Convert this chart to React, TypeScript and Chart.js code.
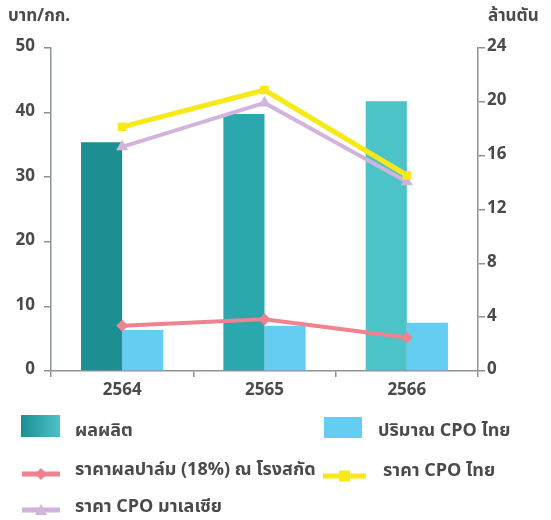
import React, { useEffect, useRef } from "react";
import { Chart, registerables } from "chart.js";

Chart.register(...registerables);

const categories = ["2564", "2565", "2566"];
const production = [17.0, 19.1, 20.05];
const cpoQuantity = [3.05, 3.37, 3.59];
const palmPrice = [7.0, 8.0, 5.2];
const cpoPriceThai = [37.8, 43.5, 30.3];
const cpoPriceMalaysia = [34.7, 41.5, 29.3];
const leftTicks = [0, 10, 20, 30, 40, 50];
const rightTicks = [0, 4, 8, 12, 16, 20, 24];

const FONT = "'Noto Sans Thai', 'Noto Sans', 'DejaVu Sans', sans-serif";
const TEXT = "#4a4a4a";
const AXIS = "#8c9396";
const TEAL = ["#1b8f92", "#2aa8ae", "#4cc3c7"];
const BLUE = "#66cdf2";
const PINK = "#f0818f";
const YELLOW = "#f7e817";
const PURPLE = "#d2b3dc";

const overlay = {
  id: "overlay",
  afterDraw(chart: any) {
    const ctx = chart.ctx as CanvasRenderingContext2D;
    ctx.save();
    ctx.fillStyle = TEXT;
    ctx.textBaseline = "middle";
    ctx.font = `bold 17px ${FONT}`;
    ctx.textAlign = "left";
    ctx.fillText("บาท/กก.", 8, 18);
    ctx.fillText("ล้านตัน", 488, 18);

    // legend
    const g = ctx.createLinearGradient(21, 0, 60, 0);
    g.addColorStop(0, TEAL[0]);
    g.addColorStop(1, TEAL[2]);
    ctx.fillStyle = g;
    ctx.fillRect(21, 415, 39, 22);
    ctx.fillStyle = BLUE;
    ctx.fillRect(324, 417, 38, 21);

    const lineSample = (x0: number, x1: number, y: number, color: string, w: number, marker: string) => {
      ctx.strokeStyle = color;
      ctx.lineWidth = w;
      ctx.beginPath();
      ctx.moveTo(x0, y);
      ctx.lineTo(x1, y);
      ctx.stroke();
      ctx.fillStyle = color;
      const cx = (x0 + x1) / 2;
      ctx.beginPath();
      if (marker === "rect") {
        ctx.rect(cx - 5.5, y - 5.5, 11, 11);
      } else if (marker === "rectRot") {
        ctx.moveTo(cx, y - 6);
        ctx.lineTo(cx + 6, y);
        ctx.lineTo(cx, y + 6);
        ctx.lineTo(cx - 6, y);
        ctx.closePath();
      } else {
        ctx.moveTo(cx, y - 6);
        ctx.lineTo(cx + 6, y + 5);
        ctx.lineTo(cx - 6, y + 5);
        ctx.closePath();
      }
      ctx.fill();
    };
    lineSample(22, 60, 474, PINK, 5, "rectRot");
    lineSample(323, 366, 476, YELLOW, 5, "rect");
    lineSample(22, 60, 510, PURPLE, 5, "triangle");

    ctx.fillStyle = TEXT;
    ctx.font = `bold 18px ${FONT}`;
    ctx.fillText("ผลผลิต", 75, 432);
    ctx.fillText("ปริมาณ CPO ไทย", 378, 432);
    ctx.fillText("ราคาผลปาล์ม (18%) ณ โรงสกัด", 75, 471);
    ctx.fillText("ราคา CPO ไทย", 383, 472);
    ctx.fillText("ราคา CPO มาเลเซีย", 75, 508);
    ctx.restore();
  },
};

export default function App() {
  const ref = useRef<HTMLCanvasElement | null>(null);
  useEffect(() => {
    if (!ref.current) return;
    const chart = new Chart(ref.current, {
      type: "bar",
      data: {
        labels: categories,
        datasets: [
          {
            type: "line",
            label: "ราคา CPO ไทย",
            data: cpoPriceThai,
            yAxisID: "yL",
            borderColor: YELLOW,
            backgroundColor: YELLOW,
            borderWidth: 5,
            pointStyle: "rect",
            pointRadius: 6,
            pointBorderWidth: 0,
            order: 0,
          },
          {
            type: "line",
            label: "ราคา CPO มาเลเซีย",
            data: cpoPriceMalaysia,
            yAxisID: "yL",
            borderColor: PURPLE,
            backgroundColor: PURPLE,
            borderWidth: 4,
            pointStyle: "triangle",
            pointRadius: 7,
            pointBorderWidth: 0,
            order: 1,
          },
          {
            type: "line",
            label: "ราคาผลปาล์ม (18%) ณ โรงสกัด",
            data: palmPrice,
            yAxisID: "yL",
            borderColor: PINK,
            backgroundColor: PINK,
            borderWidth: 4,
            pointStyle: "rectRot",
            pointRadius: 6,
            pointBorderWidth: 0,
            order: 2,
          },
          {
            type: "bar",
            label: "ผลผลิต",
            data: production,
            yAxisID: "yR",
            backgroundColor: TEAL,
            categoryPercentage: 0.578,
            barPercentage: 1,
            order: 5,
          },
          {
            type: "bar",
            label: "ปริมาณ CPO ไทย",
            data: cpoQuantity,
            yAxisID: "yR",
            backgroundColor: BLUE,
            categoryPercentage: 0.578,
            barPercentage: 1,
            order: 6,
          },
        ] as any,
      },
      options: {
        animation: false,
        responsive: false,
        maintainAspectRatio: false,
        layout: { padding: { top: 48, left: 0, right: 0, bottom: 0 } },
        plugins: { legend: { display: false }, tooltip: { enabled: false } },
        scales: {
          x: {
            grid: { drawOnChartArea: false, tickLength: 6, color: AXIS, lineWidth: 1.5, offset: true },
            border: { color: AXIS, width: 1.5 },
            ticks: { color: TEXT, font: { family: FONT, size: 17, weight: "bold" }, padding: 4 },
            afterFit: (s: any) => { s.height = 149; },
          },
          yL: {
            position: "left",
            min: 0,
            max: 50,
            afterBuildTicks: (s: any) => { s.ticks = leftTicks.map((v) => ({ value: v })); },
            grid: { drawOnChartArea: false, tickLength: 7, color: AXIS, lineWidth: 1.5 },
            border: { color: AXIS, width: 1.5 },
            ticks: { color: TEXT, font: { family: FONT, size: 17, weight: "bold" }, padding: 9 },
            afterFit: (s: any) => { s.width = 51; },
          },
          yR: {
            position: "right",
            min: 0,
            max: 24,
            afterBuildTicks: (s: any) => { s.ticks = rightTicks.map((v) => ({ value: v })); },
            grid: { drawOnChartArea: false, tickLength: 7, color: AXIS, lineWidth: 1.5 },
            border: { color: AXIS, width: 1.5 },
            ticks: { color: TEXT, font: { family: FONT, size: 17, weight: "bold" }, padding: 2 },
            afterFit: (s: any) => { s.width = 73; },
          },
        },
      } as any,
      plugins: [overlay],
    });
    return () => chart.destroy();
  }, []);
  return (
    <div style={{ position: "fixed", left: 0, top: 0, width: 551, height: 520, background: "#fff" }}>
      <canvas ref={ref} width={551} height={520} style={{ width: 551, height: 520 }} />
    </div>
  );
}
